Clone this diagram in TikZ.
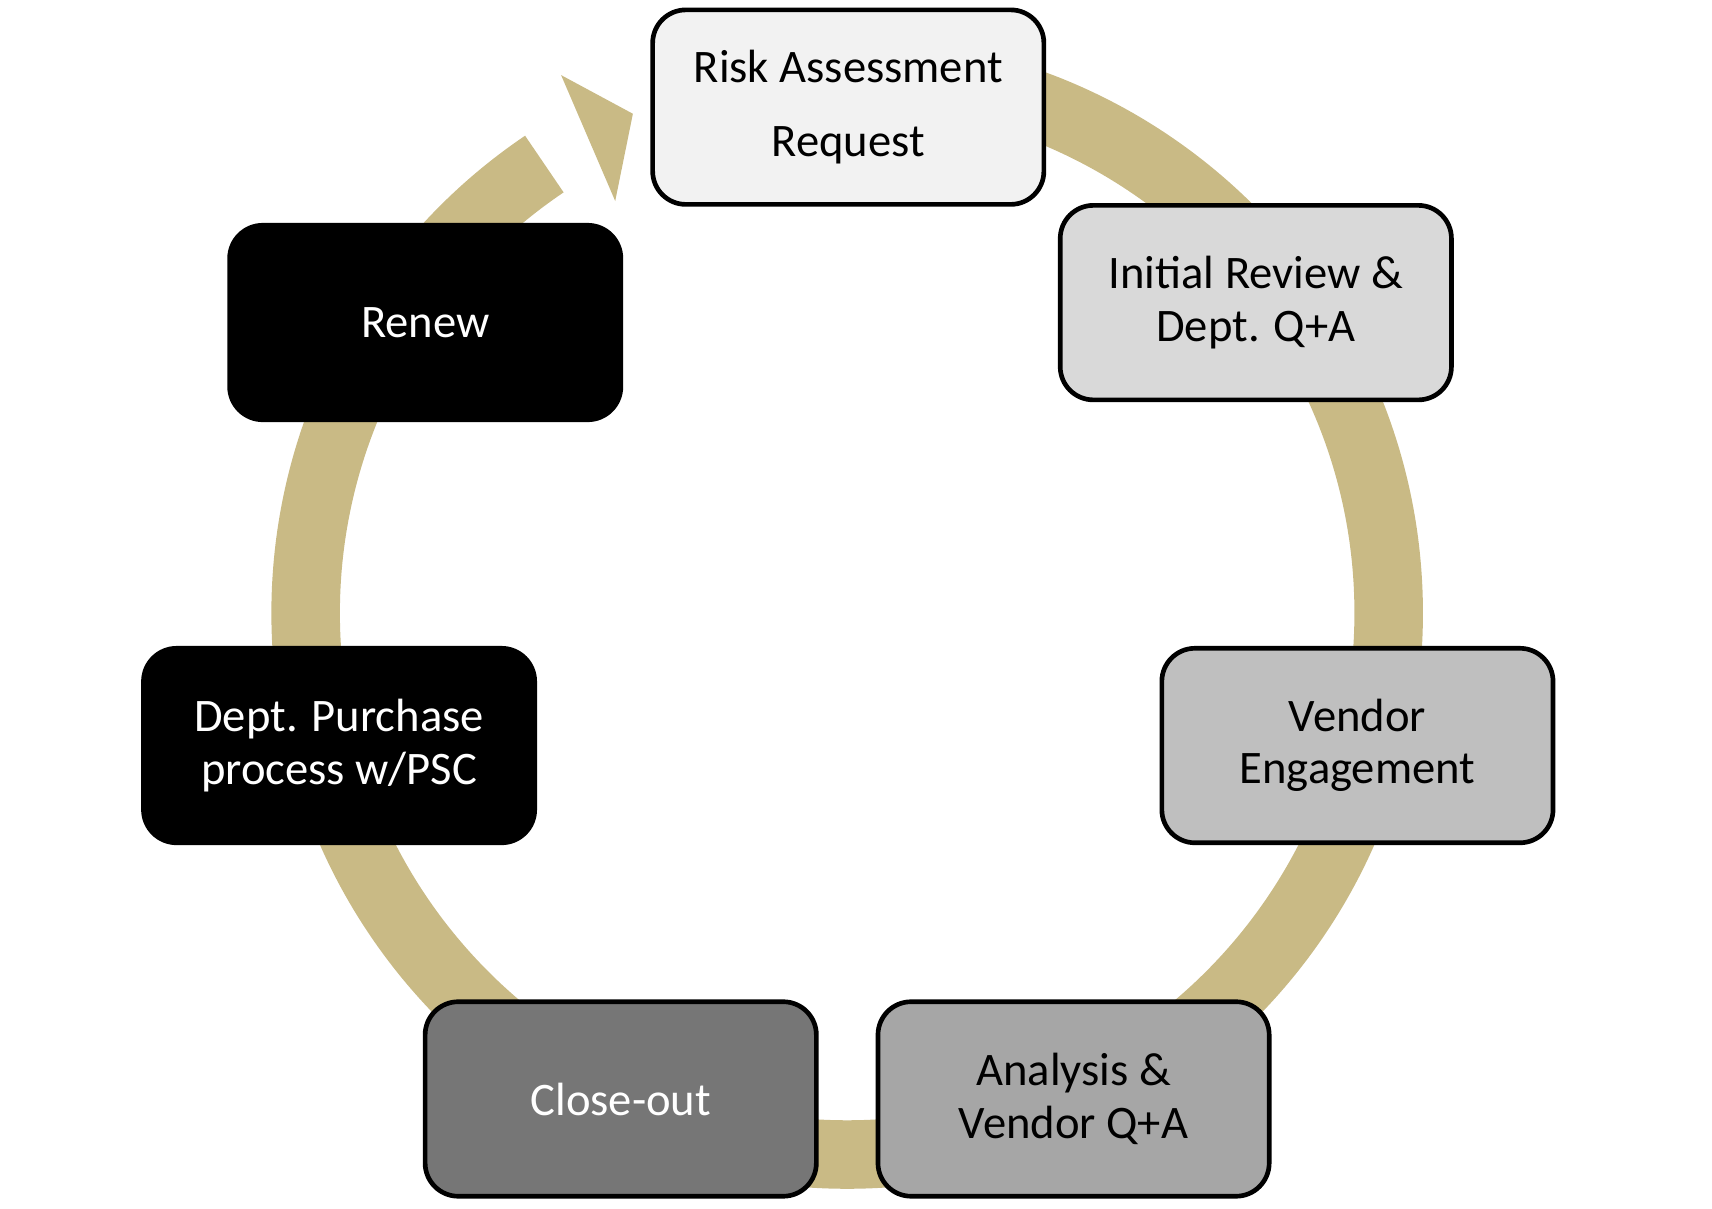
\documentclass[tikz,border=0pt]{standalone}
\usepackage{fontspec}
\setmainfont{Carlito}
\usetikzlibrary{calc}
\definecolor{ringgold}{HTML}{C9BA85}
\begin{document}
\begin{tikzpicture}[x=0.01cm,y=-0.01cm,
    stage/.style={draw=black, line width=1.2pt, rounded corners=0.3cm, minimum width=3.54cm, minimum height=1.76cm, align=center, font=\fontsize{12}{13.5}\selectfont}]
    \useasboundingbox (0,0) rectangle (1550,1094);

    % ring with arrow head
    \coordinate (ctr) at (767,555);
    \draw[ringgold, line width=0.62cm] ($(ctr)+(90:4.9cm)$) arc[start angle=90, end angle=-236, radius=4.9cm];
    \fill[ringgold] (508,68) -- (573,103) -- (557,182) -- cycle;

    % stages
    \node[stage, fill={rgb,255:red,242;green,242;blue,242}] (risk) at (768,97) {Risk Assessment\\[0.2cm]Request};
    \node[stage, fill={rgb,255:red,217;green,217;blue,217}] (review) at (1137,274) {Initial Review \&\\Dept. Q+A};
    \node[stage, fill={rgb,255:red,191;green,191;blue,191}] (vendor) at (1229,675) {Vendor\\Engagement};
    \node[stage, fill={rgb,255:red,166;green,166;blue,166}] (analysis) at (972,995) {Analysis \&\\Vendor Q+A};
    \node[stage, fill={rgb,255:red,118;green,118;blue,118}, text=white] (close) at (562,995) {Close-out};
    \node[stage, fill=black, text=white] (purchase) at (307,675) {Dept. Purchase\\process w/PSC};
    \node[stage, fill=black, text=white] (renew) at (385,292) {Renew};
\end{tikzpicture}
\end{document}
